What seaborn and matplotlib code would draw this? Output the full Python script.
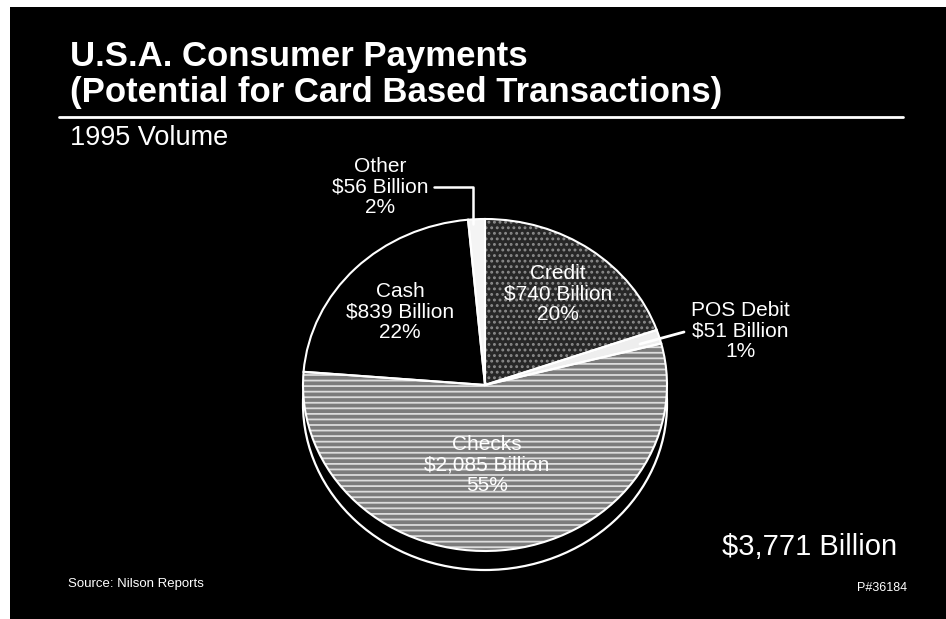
import matplotlib
matplotlib.use("Agg")
import matplotlib.pyplot as plt
from matplotlib.patches import Ellipse
import seaborn as sns

# ==================== data ====================
CATEGORIES = ["Other", "Cash", "Checks", "POS Debit", "Credit"]
BILLIONS = [56, 839, 2085, 51, 740]
AMOUNT_LABELS = ["$56 Billion", "$839 Billion", "$2,085 Billion", "$51 Billion", "$740 Billion"]
PERCENT_LABELS = ["2%", "22%", "55%", "1%", "20%"]
TOTAL_LABEL = "$3,771 Billion"
TITLE_LINES = ["U.S.A. Consumer Payments", "(Potential for Card Based Transactions)"]
SUBTITLE = "1995 Volume"
SOURCE = "Source: Nilson Reports"
PAGE_ID = "P#36184"

# ==================== layout (pixels, from top-left) ====================
W, H = 946, 619
SLICE_COLORS = ["#f4f4f4", "#000000", "#7c7c7c", "#eeeeee", "#272727"]
HATCH_COLORS = ["#f4f4f4", "#000000", "#dcdcdc", "#eeeeee", "#8a8a8a"]
SLICE_HATCH = [None, None, "---", None, "..."]
LABEL_POS = {"Other": (380, 187), "Cash": (400, 312), "Checks": (487, 465),
             "POS Debit": (740, 331), "Credit": (558, 294)}
PIE_CX, PIE_CY, PIE_RX, PIE_RY, RIM = 485, 385, 182, 166, 19

sns.set_theme(style="dark", rc={"figure.facecolor": "black", "axes.facecolor": "black"})
plt.rcParams["font.family"] = ["Liberation Sans", "DejaVu Sans"]
plt.rcParams["hatch.linewidth"] = 1.3


def fx(x):
    return x / W


def fy(y):
    return 1 - y / H


fig = plt.figure(figsize=(W / 100, H / 100), dpi=100)
fig.patch.set_facecolor("black")

# scanned white margin at top and left
fig.add_artist(plt.Rectangle((0, fy(7)), 1, 7 / H, transform=fig.transFigure, color="white", lw=0))
fig.add_artist(plt.Rectangle((0, 0), 10 / W, 1, transform=fig.transFigure, color="white", lw=0))

# titles
fig.text(fx(70), fy(66), TITLE_LINES[0], color="white", fontsize=25, fontweight="bold", va="baseline")
fig.text(fx(70), fy(102), TITLE_LINES[1], color="white", fontsize=25, fontweight="bold", va="baseline")
fig.add_artist(plt.Line2D([fx(59), fx(903)], [fy(117), fy(117)], transform=fig.transFigure,
                          color="white", lw=2))
fig.text(fx(70), fy(145), SUBTITLE, color="white", fontsize=19.5, va="baseline")

# pie axes: elliptical top face
ax = fig.add_axes([fx(PIE_CX - PIE_RX), fy(PIE_CY + PIE_RY), 2 * PIE_RX / W, 2 * PIE_RY / H])
wedges, _ = ax.pie(BILLIONS, colors=SLICE_COLORS, startangle=90, counterclock=True,
                   wedgeprops=dict(linewidth=0))
for w, h, hc in zip(wedges, SLICE_HATCH, HATCH_COLORS):
    w.set_edgecolor(hc)
    if h:
        w.set_hatch(h)
    w.set_zorder(3)
outlines, _ = ax.pie(BILLIONS, startangle=90, counterclock=True,
                     wedgeprops=dict(fill=False, edgecolor="white", linewidth=1.5))
for w in outlines:
    w.set_zorder(4)
ax.set_aspect("auto")
ax.set_xlim(-1, 1)
ax.set_ylim(-1, 1)
ax.axis("off")
rim = Ellipse((0, -RIM / PIE_RY), 2, 2, facecolor="black", edgecolor="white", lw=1.6,
              clip_on=False, zorder=1)
ax.add_patch(rim)

# slice labels
for cat, amt, pct in zip(CATEGORIES, AMOUNT_LABELS, PERCENT_LABELS):
    x, y = LABEL_POS[cat]
    fig.text(fx(x), fy(y), f"{cat}\n{amt}\n{pct}", color="white", fontsize=15,
             ha="center", va="center", linespacing=1.12, zorder=5)

# leader lines
fig.add_artist(plt.Line2D([fx(434), fx(473), fx(473)], [fy(187), fy(187), fy(224)],
                          transform=fig.transFigure, color="white", lw=1.8))
fig.add_artist(plt.Line2D([fx(640), fx(684)], [fy(344), fy(332)],
                          transform=fig.transFigure, color="white", lw=2))

fig.text(fx(810), fy(555), TOTAL_LABEL, color="white", fontsize=21, ha="center", va="baseline")
fig.text(fx(68), fy(584), SOURCE, color="white", fontsize=9.5, va="center")
fig.text(fx(907), fy(588), PAGE_ID, color="white", fontsize=9, ha="right", va="center")

fig.savefig("out.png", dpi=100, facecolor="black")
